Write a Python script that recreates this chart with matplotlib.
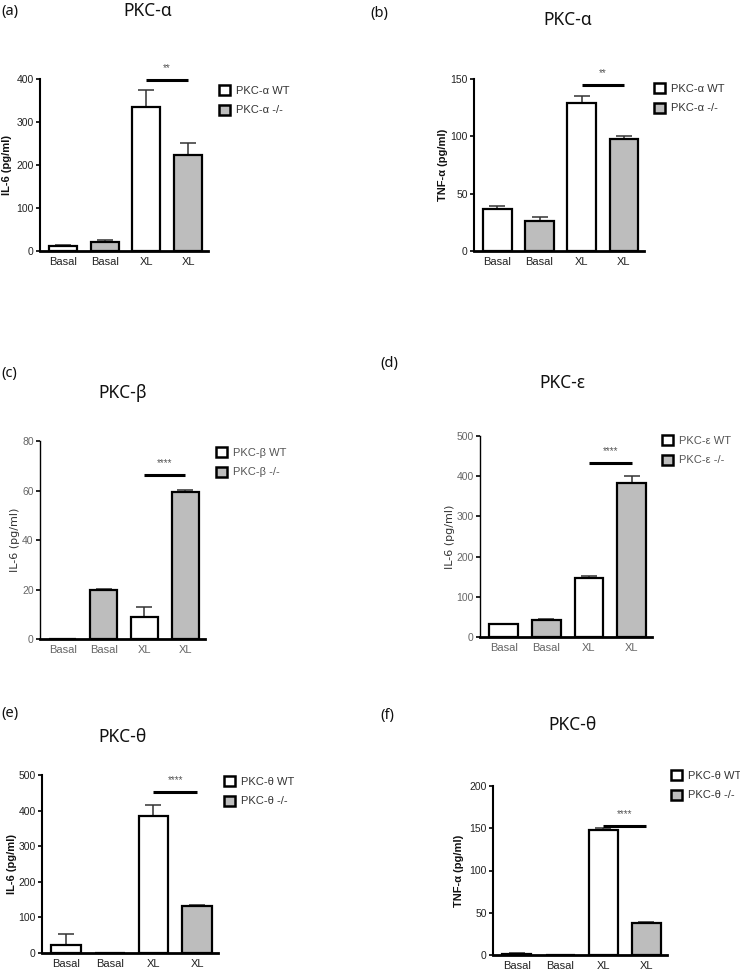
import matplotlib
matplotlib.use("Agg")
import matplotlib.pyplot as plt
from matplotlib.patches import Patch

# ---------------- data ----------------
categories = ["Basal", "Basal", "XL", "XL"]
genotype = ["WT", "KO", "WT", "KO"]

a_vals = [12.5, 20, 334, 223]
a_err = [0.5, 4.8, 40, 29]
b_vals = [36.3, 26.4, 129.4, 97.5]
b_err = [2.9, 3.5, 6.1, 2.9]
c_vals = [0, 19.8, 9, 59.2]
c_err = [0, 0.5, 3.8, 0.9]
d_vals = [32, 42, 146, 384]
d_err = [0.5, 2.5, 5, 16]
e_vals = [21.5, 0, 386, 131]
e_err = [31.5, 0, 29, 5]
f_vals = [1.6, 0, 148, 37.5]
f_err = [1.2, 0, 2.8, 1.2]

titles = ["PKC-α", "PKC-α", "PKC-β", "PKC-ε", "PKC-θ", "PKC-θ"]
panel_letters = ["(a)", "(b)", "(c)", "(d)", "(e)", "(f)"]
ylabels = ["IL-6 (pg/ml)", "TNF-α (pg/ml)", "IL-6 (pg/ml)", "IL-6 (pg/ml)",
           "IL-6 (pg/ml)", "TNF-α (pg/ml)"]
legend_wt = ["PKC-α WT", "PKC-α WT", "PKC-β WT", "PKC-ε WT", "PKC-θ WT", "PKC-θ WT"]
legend_ko = ["PKC-α -/-", "PKC-α -/-", "PKC-β -/-", "PKC-ε -/-", "PKC-θ -/-", "PKC-θ -/-"]
y_max = [400, 150, 80, 500, 500, 200]
y_step = [100, 50, 20, 100, 100, 50]
sig_labels = ["**", "**", "****", "****", "****", "****"]
sig_y = [398, 144.8, 66.3, 432, 453, 153]

values = [a_vals, b_vals, c_vals, d_vals, e_vals, f_vals]
errors = [a_err, b_err, c_err, d_err, e_err, f_err]

# ---------------- layout (pixels, from top-left) ----------------
W, H = 740, 973
axes_px = [  # left, right, top, bottom
    (40, 208, 79, 251),
    (474, 644, 79, 251),
    (40, 205, 441, 639),
    (480, 652, 436, 637),
    (42, 218, 775, 953),
    (493, 667, 786, 955),
]
title_px = [(148, 11), (568, 20), (123, 393), (562, 383), (122, 737), (573, 725)]
letter_px = [(1, 12), (370, 13), (1, 373), (380, 363), (1, 713), (380, 715)]
legend_px = [(219, 85), (654, 83), (216, 447), (662, 435), (224, 776), (671, 770)]
ylabel_px = [12, 448, 20, 455, 17, 464]
light_style = [False, False, True, True, False, False]

NARROW = ["Liberation Sans Narrow", "Liberation Sans", "DejaVu Sans"]
GRAY = "#bdbdbd"

fig = plt.figure(figsize=(W / 100, H / 100), dpi=100)
fig.patch.set_facecolor("white")

for i in range(6):
    l, r, t, b = axes_px[i]
    ax = fig.add_axes([l / W, 1 - b / H, (r - l) / W, (b - t) / H])
    light = light_style[i]
    txtcol = "#666666" if light else "#222222"

    xs = list(range(len(categories)))
    colors = ["white" if g == "WT" else GRAY for g in genotype]
    yerr = [[0] * 4, errors[i]]
    ax.errorbar(xs, values[i], yerr=yerr, fmt="none", ecolor="#333333",
                elinewidth=1.1, capsize=5.5, capthick=1.1, zorder=1)
    ax.bar(xs, values[i], width=0.675, color=colors, edgecolor="black",
           linewidth=1.6, zorder=2)

    ax.set_xlim(-0.555, 3.48)
    ax.set_ylim(0, y_max[i])
    ax.set_yticks(range(0, y_max[i] + 1, y_step[i]))
    ax.set_xticks(xs)
    ax.set_xticklabels(categories, family=NARROW, fontsize=8, color=txtcol)
    for lab in ax.get_yticklabels():
        lab.set_family(NARROW)
        lab.set_fontsize(7.5)
        lab.set_color(txtcol)
    ax.tick_params(axis="x", length=0, pad=4)
    ax.tick_params(axis="y", length=3, width=1.2, pad=1.5, direction="out")

    for s in ["top", "right"]:
        ax.spines[s].set_visible(False)
    ax.spines["left"].set_linewidth(1.0 if light else 1.5)
    ax.spines["bottom"].set_linewidth(2.0)
    ax.set_facecolor("none")

    # y label
    if light:
        ax.set_ylabel(ylabels[i], family="DejaVu Sans", fontsize=8,
                      color="#333333", fontweight="normal")
    else:
        ax.set_ylabel(ylabels[i], family=["Liberation Sans", "DejaVu Sans"],
                      fontsize=8, color="#111111", fontweight="bold")
    ax.yaxis.set_label_coords((ylabel_px[i] - l) / (r - l), 0.5)

    # significance bar
    ax.plot([2, 3], [sig_y[i], sig_y[i]], color="black", lw=2.2,
            solid_capstyle="butt", clip_on=False, zorder=3)
    ax.annotate(sig_labels[i], xy=(2.5, sig_y[i]), xytext=(0, 5),
                textcoords="offset points", ha="center", va="bottom",
                fontsize=7, color="#555555", family=NARROW,
                annotation_clip=False)

    # legend
    handles = [Patch(facecolor="white", edgecolor="black", linewidth=1.8),
               Patch(facecolor=GRAY, edgecolor="black", linewidth=1.8)]
    lx, ly = legend_px[i]
    leg = fig.legend(handles, [legend_wt[i], legend_ko[i]], loc="upper left",
                     bbox_to_anchor=(lx / W, 1 - ly / H), frameon=False,
                     handlelength=1.0, handleheight=1.0, handletextpad=0.5,
                     labelspacing=0.8, borderpad=0, borderaxespad=0,
                     prop={"family": NARROW, "size": 8})
    for tx in leg.get_texts():
        tx.set_color("#555555" if light else "#333333")

    # title and panel letter
    tx_, ty_ = title_px[i]
    fig.text(tx_ / W, 1 - ty_ / H, titles[i], ha="center", va="center",
             fontsize=12.5, family=["Noto Sans", "DejaVu Sans"], color="#111111")
    px_, py_ = letter_px[i]
    fig.text(px_ / W, 1 - py_ / H, panel_letters[i], ha="left", va="center",
             fontsize=10.5, family=["Noto Sans", "DejaVu Sans"], color="#111111")

fig.savefig("out.png", dpi=100, facecolor="white")
